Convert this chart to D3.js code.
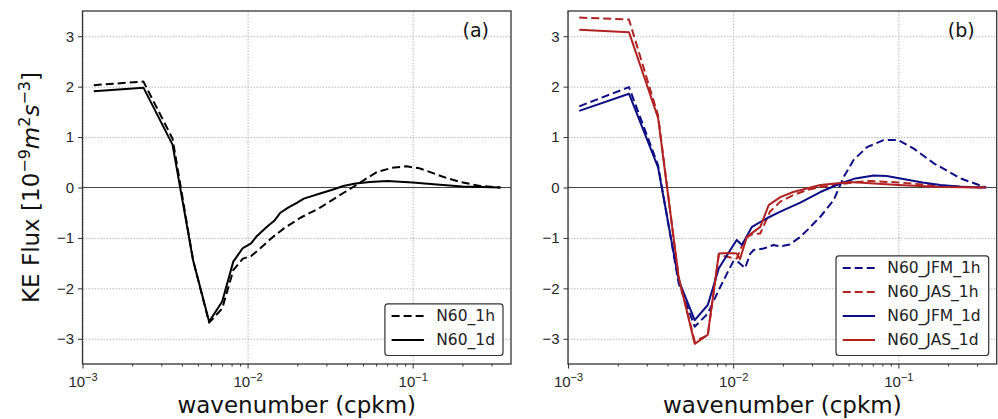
<!DOCTYPE html>
<meta charset="utf-8">
<style>
body { margin: 0; background: #fff; }
svg { font-family: "DejaVu Sans", sans-serif; }
.line { fill: none; stroke-width: 2px; stroke-linejoin: round; }
.dashed { stroke-dasharray: 8,4; }
.grid line { stroke: #b8b8b8; stroke-width: 1px; stroke-dasharray: 1.5,1.5; }
.grid path { display: none; }
.zero { stroke: #444; stroke-width: 1px; }
.frame { fill: none; stroke: #333; stroke-width: 1.3px; }
.axis path { display: none; }
.axis line { stroke: #333; stroke-width: 1px; }
.axis text { fill: #262626; font-size: 15px; }
.label { fill: #111; font-size: 23px; }
.panel { fill: #111; font-size: 19px; }
.legend rect { fill: #fff; fill-opacity: 0.85; stroke: #333; stroke-width: 1.2px; }
.legend text { fill: #222; font-size: 15.5px; }
</style>
<svg width="998" height="419"></svg>
<script src="https://cdn.jsdelivr.net/npm/d3@7"></script>
<script>

// wavenumber (cpkm), KE flux (1e-9 m2 s-3)
var n60_1h = [
  [1.17e-3, 2.03], [2.34e-3, 2.10], [3.51e-3, 0.97], [4.68e-3, -1.45], [5.85e-3, -2.68],
  [7.02e-3, -2.40], [8.19e-3, -1.64], [9.36e-3, -1.41], [1.05e-2, -1.36], [1.2e-2, -1.20],
  [1.4e-2, -1.00], [1.66e-2, -0.81], [2.09e-2, -0.60], [2.75e-2, -0.40], [3.47e-2, -0.19],
  [4.36e-2, 0.01], [5.2e-2, 0.17], [6.1e-2, 0.31], [7.5e-2, 0.39], [9.2e-2, 0.42],
  [1.1e-1, 0.38], [1.34e-1, 0.28], [1.6e-1, 0.19], [1.94e-1, 0.11], [2.56e-1, 0.03], [3.4e-1, 0.0]
];
var n60_1d = [
  [1.17e-3, 1.91], [2.34e-3, 1.98], [3.51e-3, 0.85], [4.68e-3, -1.45], [5.85e-3, -2.66],
  [7.02e-3, -2.26], [8.19e-3, -1.47], [9.36e-3, -1.20], [1.05e-2, -1.11], [1.14e-2, -0.96],
  [1.31e-2, -0.78], [1.45e-2, -0.66], [1.58e-2, -0.50], [1.76e-2, -0.40], [2.0e-2, -0.30],
  [2.19e-2, -0.22], [2.75e-2, -0.12], [3.3e-2, -0.04], [3.8e-2, 0.03], [4.5e-2, 0.08],
  [5.5e-2, 0.11], [7e-2, 0.13], [1e-1, 0.10], [1.4e-1, 0.06], [2e-1, 0.02], [3.4e-1, 0.0]
];
var n60_jfm_1h = [
  [1.17e-3, 1.61], [2.34e-3, 1.99], [3.51e-3, 0.44], [4.68e-3, -1.90], [5.85e-3, -2.76],
  [7.02e-3, -2.50], [8.19e-3, -2.03], [9.36e-3, -1.65], [1.0e-2, -1.47], [1.05e-2, -1.45],
  [1.18e-2, -1.60], [1.27e-2, -1.31], [1.33e-2, -1.24], [1.53e-2, -1.21], [1.75e-2, -1.14],
  [1.93e-2, -1.17], [2.2e-2, -1.13], [2.5e-2, -1.00], [2.8e-2, -0.85], [3.37e-2, -0.58],
  [4.06e-2, -0.25], [4.67e-2, 0.21], [5.37e-2, 0.55], [6.46e-2, 0.80], [8.14e-2, 0.94],
  [1.0e-1, 0.94], [1.24e-1, 0.77], [1.64e-1, 0.48], [2.38e-1, 0.18], [3.4e-1, 0.0]
];
var n60_jas_1h = [
  [1.17e-3, 3.37], [2.34e-3, 3.33], [3.51e-3, 1.43], [4.68e-3, -1.80], [5.85e-3, -3.05],
  [7.02e-3, -2.93], [8.19e-3, -1.33], [9.36e-3, -1.38], [1.05e-2, -1.41], [1.18e-2, -1.01],
  [1.3e-2, -0.93], [1.46e-2, -0.91], [1.67e-2, -0.48], [1.93e-2, -0.28], [2.31e-2, -0.15],
  [2.8e-2, -0.05], [3.37e-2, 0.01], [4.5e-2, 0.07], [6.5e-2, 0.13], [1e-1, 0.10],
  [1.4e-1, 0.06], [1.8e-1, 0.03], [3.4e-1, 0.0]
];
var n60_jfm_1d = [
  [1.17e-3, 1.52], [2.34e-3, 1.86], [3.51e-3, 0.40], [4.68e-3, -1.84], [5.85e-3, -2.63],
  [7.02e-3, -2.33], [8.19e-3, -1.60], [9.36e-3, -1.30], [1.05e-2, -1.04], [1.13e-2, -1.14],
  [1.3e-2, -0.78], [1.6e-2, -0.61], [1.93e-2, -0.48], [2.55e-2, -0.30], [3.37e-2, -0.09],
  [4.45e-2, 0.08], [5.5e-2, 0.18], [7.08e-2, 0.24], [8.5e-2, 0.23], [1.03e-1, 0.18],
  [1.4e-1, 0.10], [1.8e-1, 0.05], [2.5e-1, 0.01], [3.4e-1, 0.0]
];
var n60_jas_1d = [
  [1.17e-3, 3.13], [2.34e-3, 3.08], [3.51e-3, 1.38], [4.68e-3, -1.78], [5.85e-3, -3.10],
  [7.02e-3, -2.92], [8.19e-3, -1.31], [9.36e-3, -1.30], [1.05e-2, -1.31], [1.1e-2, -1.42],
  [1.21e-2, -0.98], [1.46e-2, -0.78], [1.64e-2, -0.35], [1.93e-2, -0.19], [2.31e-2, -0.09],
  [3.37e-2, 0.05], [5.1e-2, 0.11], [1e-1, 0.05], [1.8e-1, 0.01], [3.4e-1, 0.0]
];

var yTicks = [-3, -2, -1, 0, 1, 2, 3];
var xMajor = [1e-3, 1e-2, 1e-1];
var xExp = ["\u22123", "\u22122", "\u22121"];

var panels = [
  { tag: "(a)", left: 82.5, right: 511, series: [
      { name: "N60_1h", data: n60_1h, color: "#000", dash: true },
      { name: "N60_1d", data: n60_1d, color: "#000", dash: false } ] },
  { tag: "(b)", left: 568, right: 996.7, series: [
      { name: "N60_JFM_1h", data: n60_jfm_1h, color: "#0d0d85", dash: true },
      { name: "N60_JAS_1h", data: n60_jas_1h, color: "#b22222", dash: true },
      { name: "N60_JFM_1d", data: n60_jfm_1d, color: "#0d0d85", dash: false },
      { name: "N60_JAS_1d", data: n60_jas_1d, color: "#b22222", dash: false } ] }
];

var svg = d3.select("svg"),
    top0 = 11, bottom0 = 364;

var y = d3.scaleLinear().domain([-3.5, 3.5]).range([bottom0, top0]);

var minor = [];
[1e-3, 1e-2, 1e-1].forEach(function(d) {
  for (var i = 2; i <= 9; i++) if (d * i < 0.394) minor.push(d * i);
});

panels.forEach(function(p) {
  var x = d3.scaleLog().domain([1e-3, 0.394]).range([p.left, p.right]);
  var g = svg.append("g");
  var w = p.right - p.left, h = bottom0 - top0;

  // grid
  g.append("g").attr("class", "grid")
      .attr("transform", "translate(0," + bottom0 + ")")
      .call(d3.axisBottom(x).tickValues(xMajor).tickSize(-h).tickFormat(""));
  g.append("g").attr("class", "grid")
      .attr("transform", "translate(" + p.left + ",0)")
      .call(d3.axisLeft(y).tickValues(yTicks.filter(function(d) { return d !== 0; })).tickSize(-w).tickFormat(""));

  g.append("line").attr("class", "zero")
      .attr("x1", p.left).attr("x2", p.right)
      .attr("y1", y(0)).attr("y2", y(0));

  var line = d3.line()
      .x(function(d) { return x(d[0]); })
      .y(function(d) { return y(d[1]); });

  p.series.forEach(function(s) {
    g.append("path")
        .datum(s.data)
        .attr("class", "line" + (s.dash ? " dashed" : ""))
        .attr("stroke", s.color)
        .attr("d", line);
  });

  g.append("rect").attr("class", "frame")
      .attr("x", p.left).attr("y", top0).attr("width", w).attr("height", h);

  // axes
  g.append("g").attr("class", "axis")
      .attr("transform", "translate(" + p.left + ",0)")
      .call(d3.axisLeft(y).tickValues(yTicks).tickSize(4.5).tickPadding(4)
        .tickFormat(function(d) { return d < 0 ? "\u2212" + (-d) : d; }));

  g.append("g").attr("class", "axis")
      .attr("transform", "translate(0," + bottom0 + ")")
      .call(d3.axisBottom(x).tickValues(minor).tickSize(2.5).tickFormat(""));

  var xa = g.append("g").attr("class", "axis")
      .attr("transform", "translate(0," + bottom0 + ")")
      .call(d3.axisBottom(x).tickValues(xMajor).tickSize(4.5).tickPadding(6).tickFormat(""));
  xa.selectAll(".tick").append("text")
      .attr("y", 23).attr("text-anchor", "middle")
      .each(function(d, i) {
        var t = d3.select(this);
        t.append("tspan").text("10");
        t.append("tspan").attr("dy", -6.5).style("font-size", "11px").text(xExp[i]);
      });

  // x label
  g.append("text").attr("class", "label")
      .attr("x", (p.left + p.right) / 2).attr("y", 413)
      .attr("text-anchor", "middle")
      .text("wavenumber (cpkm)");

  // panel tag
  g.append("text").attr("class", "panel")
      .attr("x", p.right - 22).attr("y", 37)
      .attr("text-anchor", "end")
      .text(p.tag);

  // legend
  var leg = g.append("g").attr("class", "legend");
  var rowH = 24, n = p.series.length;
  var box = leg.append("rect").attr("rx", 3).attr("ry", 3);
  var items = leg.selectAll("g.item").data(p.series).enter().append("g").attr("class", "item");
  items.append("text").attr("dy", "0.35em").text(function(d) { return d.name; });
  var tw = d3.max(items.select("text").nodes(), function(n) { return n.getComputedTextLength(); });
  var bw = 6.7 + 32.3 + 12.3 + tw + 8, bh = n * rowH + 3.6;
  var bx = p.right - 8 - bw, by = bottom0 - 8.5 - bh;
  box.attr("x", bx).attr("y", by).attr("width", bw).attr("height", bh);
  items.attr("transform", function(d, i) { return "translate(" + bx + "," + (by + 12 + i * rowH) + ")"; });
  items.append("line")
      .attr("class", function(d) { return "line" + (d.dash ? " dashed" : ""); })
      .attr("x1", 6.7).attr("x2", 39).attr("y1", 0).attr("y2", 0)
      .attr("stroke", function(d) { return d.color; });
  items.select("text").attr("x", 51.3);
});

// y label
var yl = svg.append("text").attr("class", "label")
    .attr("transform", "translate(38.5," + ((top0 + bottom0) / 2) + ") rotate(-90)")
    .attr("text-anchor", "middle");
yl.append("tspan").text("KE Flux [10");
yl.append("tspan").attr("dy", -9).style("font-size", "16px").text("\u22129");
yl.append("tspan").attr("dy", 9).style("font-style", "italic").text("m");
yl.append("tspan").attr("dy", -9).style("font-size", "16px").text("2");
yl.append("tspan").attr("dy", 9).style("font-style", "italic").text("s");
yl.append("tspan").attr("dy", -9).style("font-size", "16px").text("\u22123");
yl.append("tspan").attr("dy", 9).text("]");

</script>
